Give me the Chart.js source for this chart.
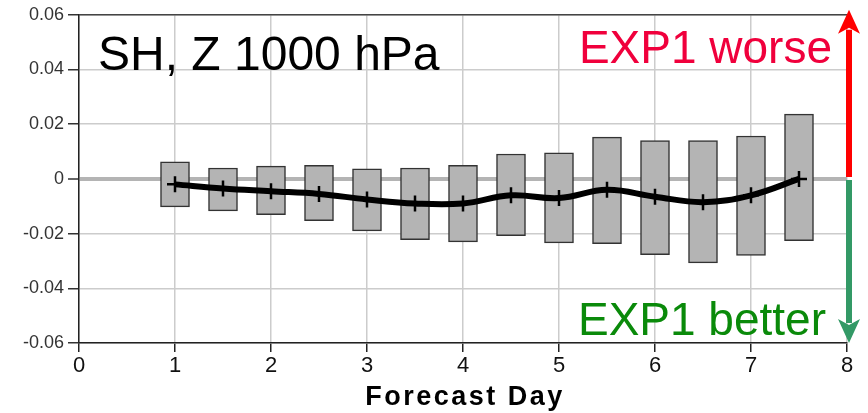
<!DOCTYPE html>
<html>
<head>
<meta charset="utf-8">
<script src="https://cdn.jsdelivr.net/npm/chart.js@4"></script>
<style>
  body { margin: 0; background: #fff; }
  canvas { display: block; }
</style>
</head>
<body>
<canvas id="chart" width="868" height="413"></canvas>
<script>
// forecast days where a box is drawn
const days = [1, 1.5, 2, 2.5, 3, 3.5, 4, 4.5, 5, 5.5, 6, 6.5, 7, 7.5];
// box bottoms / tops (score difference)
const boxLow = [-0.0102, -0.0117, -0.0131, -0.0153, -0.019, -0.0222, -0.023, -0.0208, -0.0234, -0.0237, -0.0277, -0.0307, -0.028, -0.0226];
const boxHigh = [0.0062, 0.004, 0.0047, 0.005, 0.0037, 0.004, 0.005, 0.0091, 0.0095, 0.0153, 0.014, 0.014, 0.0157, 0.0237];
// mean difference line
const meanDiff = [-0.002, -0.0035, -0.0045, -0.0055, -0.0075, -0.009, -0.009, -0.006, -0.007, -0.004, -0.0065, -0.0085, -0.006, 0.0];

const titleText = 'SH, Z 1000 hPa';
const worseText = 'EXP1 worse';
const betterText = 'EXP1 better';
const xTitle = 'Forecast Day';

const FONT = '"Liberation Sans", Arial, Helvetica, sans-serif';

function drawArrow(ctx, x, y0, y1, color) {
    const dir = y1 < y0 ? -1 : 1;
    const headLen = 24;
    const halfW = 11;
    ctx.save();
    ctx.strokeStyle = color;
    ctx.fillStyle = color;
    ctx.lineWidth = 6;
    ctx.beginPath();
    ctx.moveTo(x, y0);
    ctx.lineTo(x, y1 - dir * (headLen - 4));
    ctx.stroke();
    ctx.beginPath();
    ctx.moveTo(x, y1);
    ctx.lineTo(x - halfW, y1 - dir * headLen);
    ctx.lineTo(x, y1 - dir * (headLen - 6));
    ctx.lineTo(x + halfW, y1 - dir * headLen);
    ctx.closePath();
    ctx.fill();
    ctx.restore();
}

const extras = {
    id: 'extras',
    afterDraw(chart) {
        const ctx = chart.ctx;
        const xs = chart.scales.x;
        const ys = chart.scales.y;
        const area = chart.chartArea;

        // top frame line
        ctx.save();
        ctx.strokeStyle = '#444';
        ctx.lineWidth = 1.5;
        ctx.beginPath();
        ctx.moveTo(area.left, area.top);
        ctx.lineTo(area.right, area.top);
        ctx.stroke();
        ctx.restore();

        const xr = xs.getPixelForValue(8) + 2;
        const yZero = ys.getPixelForValue(0);
        drawArrow(ctx, xr, yZero - 2, ys.getPixelForValue(0.06) - 5, '#ff0000');
        drawArrow(ctx, xr, yZero + 1, ys.getPixelForValue(-0.06), '#339966');

        ctx.save();
        ctx.textBaseline = 'alphabetic';
        ctx.font = '48px ' + FONT;
        ctx.fillStyle = '#000';
        ctx.textAlign = 'left';
        ctx.fillText(titleText, 98, 70);

        ctx.font = '46px ' + FONT;
        ctx.textAlign = 'right';
        ctx.fillStyle = '#f0003c';
        ctx.fillText(worseText, 832, 63);
        ctx.fillStyle = '#0a8a0a';
        ctx.fillText(betterText, 826, 335);

        ctx.font = 'bold 27px ' + FONT;
        ctx.textAlign = 'center';
        ctx.fillStyle = '#000';
        ctx.letterSpacing = '2.5px';
        ctx.fillText(xTitle, (area.left + area.right) / 2 + 2, 405);
        ctx.restore();
    }
};

new Chart(document.getElementById('chart'), {
    type: 'bar',
    data: {
        datasets: [
            {
                type: 'line',
                data: days.map((d, i) => ({ x: d, y: meanDiff[i] })),
                borderColor: '#000',
                borderWidth: 6,
                tension: 0.4,
                pointStyle: 'cross',
                pointRadius: 8,
                pointBorderWidth: 2.5,
                pointBorderColor: '#000',
                order: 0
            },
            {
                type: 'bar',
                data: days.map((d, i) => ({ x: d, y: [boxLow[i], boxHigh[i]] })),
                backgroundColor: '#b4b4b4',
                borderColor: '#333',
                borderWidth: 1.5,
                borderSkipped: false,
                barThickness: 29,
                order: 1
            }
        ]
    },
    options: {
        responsive: false,
        animation: false,
        layout: { padding: { left: 0, right: 21, top: 14, bottom: 0 } },
        plugins: {
            legend: { display: false },
            tooltip: { enabled: false }
        },
        scales: {
            x: {
                type: 'linear',
                min: 0,
                max: 8,
                offset: false,
                ticks: {
                    stepSize: 1,
                    color: '#111',
                    font: { family: FONT, size: 22 },
                    padding: 1
                },
                grid: {
                    offset: false,
                    color: '#cccccc',
                    tickColor: '#222',
                    tickLength: 9,
                    lineWidth: 1.5
                },
                border: { color: '#222', width: 1.5 },
                afterFit(scale) { scale.height = 70; }
            },
            y: {
                min: -0.06,
                max: 0.06,
                ticks: {
                    stepSize: 0.02,
                    color: '#333',
                    padding: 4,
                    font: { family: FONT, size: 18 },
                    callback(v) {
                        const r = Math.round(v * 100) / 100;
                        return r === 0 ? '0' : r.toFixed(2);
                    }
                },
                grid: {
                    color: (c) => Math.abs(c.tick.value) < 1e-9 ? '#b4b4b4' : '#cccccc',
                    lineWidth: (c) => Math.abs(c.tick.value) < 1e-9 ? 4 : 1.5,
                    tickColor: '#333',
                    tickWidth: 1.5,
                    tickLength: 11
                },
                border: { color: '#222', width: 1.5 },
                afterFit(scale) { scale.width = 79; }
            }
        }
    },
    plugins: [extras]
});
</script>
</body>
</html>
